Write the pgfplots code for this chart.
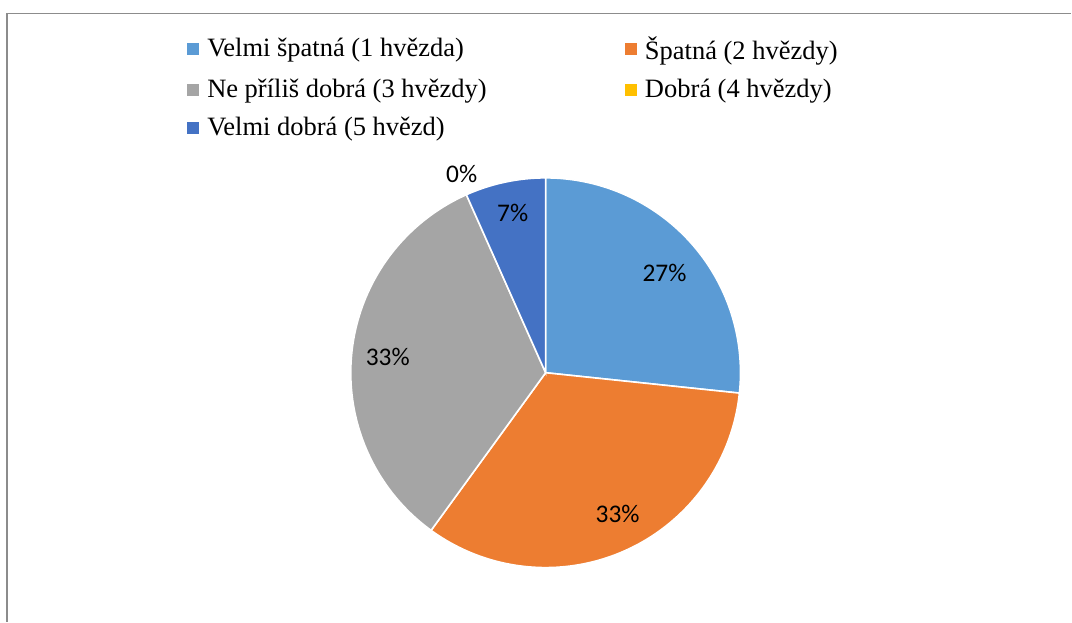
\documentclass[border=0pt]{standalone}
\usepackage{fontspec}
\setmainfont{Liberation Serif}
\newfontfamily\calibri{Carlito}
\usepackage{pgfplots}
\usepackage{pgfplotstable}
\pgfplotsset{compat=1.18}

\definecolor{c0}{HTML}{5B9BD5}
\definecolor{c1}{HTML}{ED7D31}
\definecolor{c2}{HTML}{A5A5A5}
\definecolor{c3}{HTML}{FFC000}
\definecolor{c4}{HTML}{4472C4}
\definecolor{framegray}{HTML}{8C8C8C}

% počty hodnocení a pozice popisků (px, y dolů)
\pgfplotstableread{
count lx  ly
4     665 273
5     618 514
5     388 357
0     462 174
1     513 213
}\ratings

\newcommand\legendfont{\fontsize{13.25}{15}\selectfont}
\newcommand\labelfont{\calibri\fontsize{12.7}{14}\selectfont}

\begin{document}
\begin{tikzpicture}
\begin{axis}[
  scale only axis, width=536pt, height=311pt,
  xmin=0, xmax=1072, ymin=-622, ymax=0,
  hide axis, clip=false,
  legend columns=2,
  legend image code/.code={%
    \fill[#1, draw=none] (0pt,-3pt) rectangle (6pt,3pt);
    \path[draw=none, fill=none] (0pt,0pt) -- (8pt,0pt);},
  legend style={
    at={(axis cs:187,-32)}, anchor=north west,
    draw=none, fill=none, inner sep=0pt,
    font=\legendfont, row sep=4.5pt,
    cells={anchor=west},
  },
]
\path (axis cs:0,0) rectangle (axis cs:1072,-622);
\draw[framegray, line width=0.75pt] (axis cs:7,-622) -- (axis cs:7,-13.5) -- (axis cs:1072,-13.5);

\pgfmathsetmacro\total{0}
\pgfplotsforeachungrouped \i in {0,...,4}{%
  \pgfplotstablegetelem{\i}{count}\of\ratings
  \pgfmathsetmacro\total{\total+\pgfplotsretval}%
  \global\let\total\total
}

\def\cum{0}
\pgfplotsforeachungrouped \i in {0,...,4}{%
  \pgfplotstablegetelem{\i}{count}\of\ratings \let\cnt\pgfplotsretval
  \pgfplotstablegetelem{\i}{lx}\of\ratings \let\lx\pgfplotsretval
  \pgfplotstablegetelem{\i}{ly}\of\ratings \let\ly\pgfplotsretval
  \pgfmathsetmacro\angA{90-360*\cum/\total}%
  \pgfmathsetmacro\cumnew{\cum+\cnt}%
  \pgfmathsetmacro\angB{90-360*\cumnew/\total}%
  \pgfmathtruncatemacro\pct{round(100*\cnt/\total)}%
  \ifdim\cnt pt>0pt
    \edef\temp{\noexpand\addplot[forget plot, fill=c\i, draw=white, line width=0.8pt,
      domain=\angB:\angA, samples=90, variable=\noexpand\t]
      ({546+195*cos(\noexpand\t)},{-373+195*sin(\noexpand\t)}) -- (axis cs:546,-373) -- cycle;}%
    \temp
  \fi
  \edef\temp{\noexpand\node[font=\noexpand\labelfont] at (axis cs:\lx,-\ly) {\pct\noexpand\%};}%
  \temp
  \global\let\cum\cumnew
}

\addlegendimage{fill=c0}
\addlegendentry{\makebox[207pt][l]{Velmi špatná (1 hvězda)}}
\addlegendimage{fill=c1}
\addlegendentry{Špatná (2 hvězdy)}
\addlegendimage{fill=c2}
\addlegendentry{\makebox[207pt][l]{Ne příliš dobrá (3 hvězdy)}}
\addlegendimage{fill=c3}
\addlegendentry{Dobrá (4 hvězdy)}
\addlegendimage{fill=c4}
\addlegendentry{\makebox[207pt][l]{Velmi dobrá (5 hvězd)}}
\end{axis}
\end{tikzpicture}
\end{document}
